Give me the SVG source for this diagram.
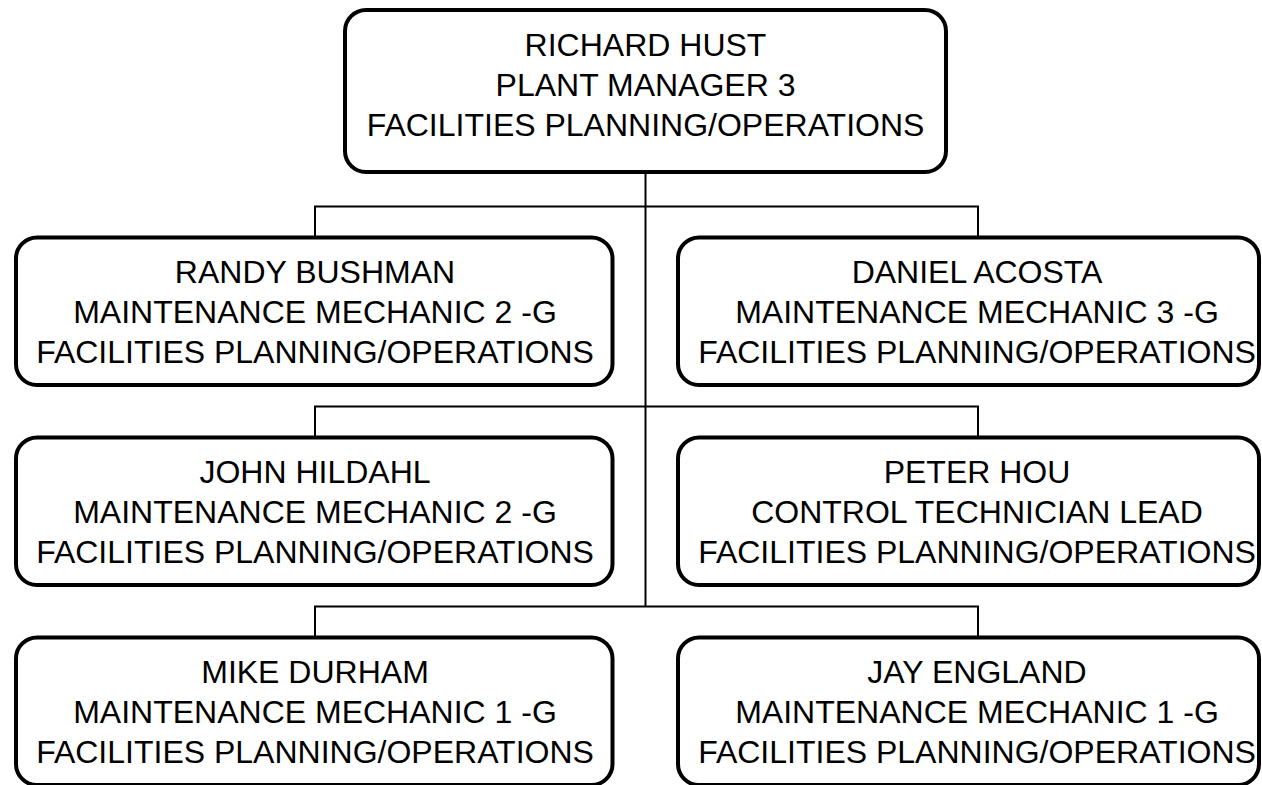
<svg xmlns="http://www.w3.org/2000/svg" width="1262" height="785" viewBox="0 0 1262 785">
<style>
.box{fill:#fff;stroke:#000;stroke-width:4}
.ln{fill:none;stroke:#000;stroke-width:2}
text{font-family:"Liberation Sans",Arial,sans-serif;font-size:32px;fill:#000;text-anchor:middle}
</style>
<rect width="1262" height="785" fill="#fff"/>
<g id="connectors">
<path class="ln" d="M645.5,172 V606.5"/>
<path class="ln" d="M315,237.5 V206.5 H978 V237.5"/>
<path class="ln" d="M315,437.5 V406.5 H978 V437.5"/>
<path class="ln" d="M315,637.5 V606.5 H978 V637.5"/>
</g>
<g id="n0">
<rect class="box" x="345" y="10" width="601" height="162" rx="21"/>
<text x="645.5" y="56">RICHARD HUST</text>
<text x="645.5" y="96">PLANT MANAGER 3</text>
<text x="645.5" y="136">FACILITIES PLANNING/OPERATIONS</text>
</g>
<g id="n1">
<rect class="box" x="16" y="237.5" width="596.5" height="147.5" rx="21"/>
<text x="315" y="282.5">RANDY BUSHMAN</text>
<text x="315" y="322.5">MAINTENANCE MECHANIC 2 -G</text>
<text x="315" y="362.5">FACILITIES PLANNING/OPERATIONS</text>
</g>
<g id="n2">
<rect class="box" x="678" y="237.5" width="581" height="147.5" rx="21"/>
<text x="977" y="282.5">DANIEL ACOSTA</text>
<text x="977" y="322.5">MAINTENANCE MECHANIC 3 -G</text>
<text x="977" y="362.5">FACILITIES PLANNING/OPERATIONS</text>
</g>
<g id="n3">
<rect class="box" x="16" y="437.5" width="596.5" height="147.5" rx="21"/>
<text x="315" y="482.5">JOHN HILDAHL</text>
<text x="315" y="522.5">MAINTENANCE MECHANIC 2 -G</text>
<text x="315" y="562.5">FACILITIES PLANNING/OPERATIONS</text>
</g>
<g id="n4">
<rect class="box" x="678" y="437.5" width="581" height="147.5" rx="21"/>
<text x="977" y="482.5">PETER HOU</text>
<text x="977" y="522.5">CONTROL TECHNICIAN LEAD</text>
<text x="977" y="562.5">FACILITIES PLANNING/OPERATIONS</text>
</g>
<g id="n5">
<rect class="box" x="16" y="637.5" width="596.5" height="147.5" rx="21"/>
<text x="315" y="682.5">MIKE DURHAM</text>
<text x="315" y="722.5">MAINTENANCE MECHANIC 1 -G</text>
<text x="315" y="762.5">FACILITIES PLANNING/OPERATIONS</text>
</g>
<g id="n6">
<rect class="box" x="678" y="637.5" width="581" height="147.5" rx="21"/>
<text x="977" y="682.5">JAY ENGLAND</text>
<text x="977" y="722.5">MAINTENANCE MECHANIC 1 -G</text>
<text x="977" y="762.5">FACILITIES PLANNING/OPERATIONS</text>
</g>
</svg>
